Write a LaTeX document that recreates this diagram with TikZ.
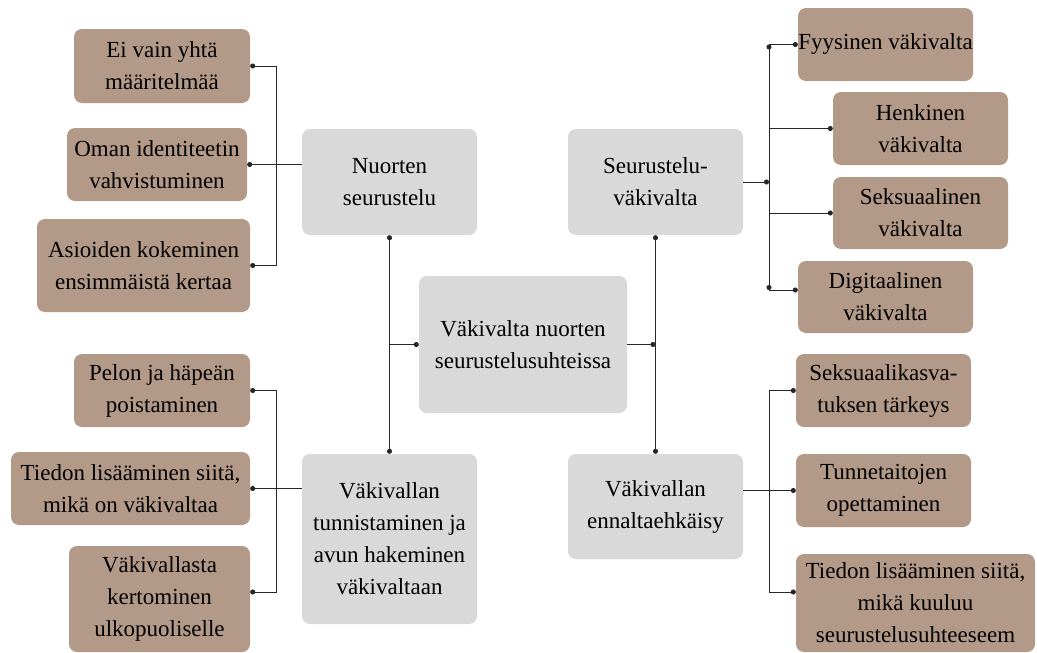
\documentclass[tikz,border=0pt]{standalone}
\usepackage{fontspec}
\setmainfont{Liberation Serif}
\usetikzlibrary{arrows.meta}
\definecolor{ruskea}{RGB}{179,154,136}
\definecolor{harmaa}{RGB}{217,217,217}
\tikzset{
  laatikko/.style={fill=ruskea, rounded corners=8pt, align=center, inner sep=0pt,
    font=\fontsize{23}{32}\selectfont},
  otsikko/.style={laatikko, fill=harmaa},
  yhteys/.style={line width=0.9pt, black!85},
  piste/.style={-{Circle[length=5pt,width=5pt]}},
  pisteet/.style={{Circle[length=5pt,width=5pt]}-{Circle[length=5pt,width=5pt]}},
}

\begin{document}
\begin{tikzpicture}[x=1pt,y=-1pt]
	%%%%% START %%%%%
	\useasboundingbox (0,0) rectangle (1037,653);
	\coordinate (lspine) at (276,0);
	\coordinate (rspine) at (769,0);
	
	% keskimmaiset
	\node[otsikko, minimum width=208pt, minimum height=137pt] (keski) at (523,344.5) {V\"akivalta nuorten\\seurustelusuhteissa};
	\node[otsikko, minimum width=175pt, minimum height=106pt] (nuorten) at (389.5,182) {Nuorten\\seurustelu};
	\node[otsikko, minimum width=175pt, minimum height=106pt] (seur) at (655.5,182) {Seurustelu-\\v\"akivalta};
	\node[otsikko, minimum width=175pt, minimum height=170pt] (tunnist) at (389.5,539) {V\"akivallan\\tunnistaminen ja\\avun hakeminen\\v\"akivaltaan};
	\node[otsikko, minimum width=175pt, minimum height=105pt] (ennalta) at (655.5,506.5) {V\"akivallan\\ennaltaehk\"aisy};
	
	% vasen yla
	\node[laatikko, minimum width=176pt, minimum height=74pt] (ei) at (162,66) {Ei vain yht\"a\\m\"a\"aritelm\"a\"a};
	\node[laatikko, minimum width=180pt, minimum height=73pt] (oman) at (157,164.5) {Oman identiteetin\\vahvistuminen};
	\node[laatikko, minimum width=213pt, minimum height=93pt] (asioiden) at (143.5,265.5) {Asioiden kokeminen\\ensimm\"aist\"a kertaa};
	
	% oikea yla
	\node[laatikko, minimum width=175pt, minimum height=73pt] (fyys) at (885.5,44.5) {Fyysinen v\"akivalta};
	\node[laatikko, minimum width=175pt, minimum height=73pt] (henk) at (920.5,128.5) {Henkinen\\v\"akivalta};
	\node[laatikko, minimum width=175pt, minimum height=72pt] (seks) at (920.5,213) {Seksuaalinen\\v\"akivalta};
	\node[laatikko, minimum width=175pt, minimum height=72pt] (digi) at (885.5,297) {Digitaalinen\\v\"akivalta};
	
	% vasen ala
	\node[laatikko, minimum width=176pt, minimum height=73pt] (pelon) at (162,390.5) {Pelon ja h\"ape\"an\\poistaminen};
	\node[laatikko, minimum width=239pt, minimum height=73pt] (tiedon1) at (130.5,488.5) {Tiedon lis\"a\"aminen siit\"a,\\mik\"a on v\"akivaltaa};
	\node[laatikko, minimum width=181pt, minimum height=106pt] (kertominen) at (159.5,599) {V\"akivallasta\\kertominen\\ulkopuoliselle};
	
	% oikea ala
	\node[laatikko, minimum width=175pt, minimum height=73pt] (seksk) at (883.5,390.5) {Seksuaalikasva-\\tuksen t\"arkeys};
	\node[laatikko, minimum width=175pt, minimum height=73pt] (tunne) at (883.5,490.5) {Tunnetaitojen\\opettaminen};
	\node[laatikko, minimum width=239pt, minimum height=98pt] (tiedon2) at (915.5,603) {Tiedon lis\"a\"aminen siit\"a,\\mik\"a kuuluu\\seurustelusuhteeseem};
	
	\coordinate (digipiste) at ([yshift=7pt]digi.west);
	\coordinate (kerpiste) at ([yshift=7pt]kertominen.east);
	\coordinate (tiepiste) at ([yshift=11pt]tiedon2.west);
	
	% yhteydet
	\draw[yhteys, pisteet] (nuorten.south) -- (tunnist.north);
	\draw[yhteys, piste] (nuorten.south |- keski.west) -- (keski.west);
	\draw[yhteys, pisteet] (seur.south) -- (ennalta.north);
	\draw[yhteys, piste] (keski.east) -- (keski.east -| seur.south);
	
	\draw[yhteys, pisteet] (ei.east) -- (ei.east -| lspine) -- (asioiden.east -| lspine) -- (asioiden.east);
	\draw[yhteys, piste] (oman.east -| nuorten.west) -- (oman.east);
	
	\draw[yhteys, piste] (seur.east) -- (seur.east -| rspine);
	\draw[yhteys, pisteet] (fyys.west -| rspine) -- (digipiste -| rspine);
	\draw[yhteys, piste] (fyys.west -| rspine) -- (fyys.west);
	\draw[yhteys, piste] (henk.west -| rspine) -- (henk.west);
	\draw[yhteys, piste] (seks.west -| rspine) -- (seks.west);
	\draw[yhteys, piste] (digipiste -| rspine) -- (digipiste);
	
	\draw[yhteys, pisteet] (pelon.east) -- (pelon.east -| lspine) -- (kerpiste -| lspine) -- (kerpiste);
	\draw[yhteys, piste] (tiedon1.east -| tunnist.west) -- (tiedon1.east);
	
	\draw[yhteys, pisteet] (seksk.west) -- (seksk.west -| rspine) -- (tiepiste -| rspine) -- (tiepiste);
	\draw[yhteys, piste] (tunne.west -| ennalta.east) -- (tunne.west);
	%%%%% END %%%%%
\end{tikzpicture}
\end{document}
